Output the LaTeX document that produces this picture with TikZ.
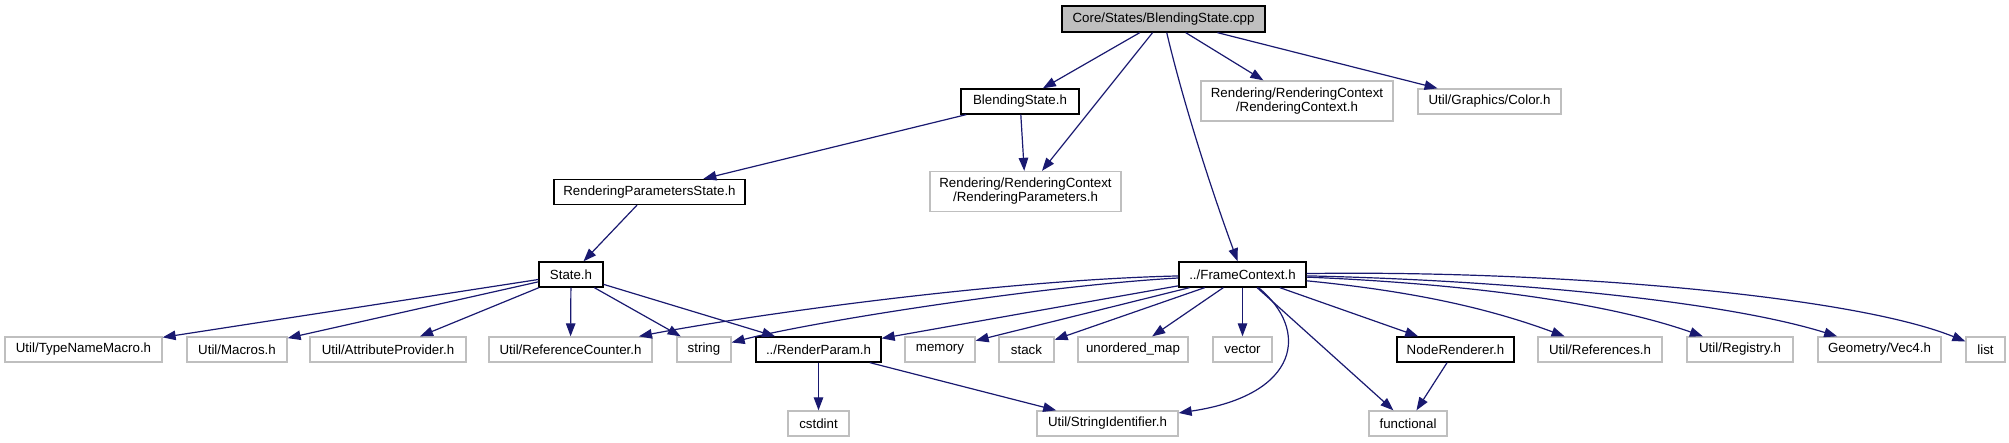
\documentclass[tikz,border=0pt]{standalone}
\usepackage{fontspec}
\setsansfont{Liberation Sans}
\usepackage{tikz}
\usetikzlibrary{arrows.meta, positioning, calc}
\definecolor{ink}{HTML}{000000}
\definecolor{edgeblue}{HTML}{191970}
\definecolor{nodoc}{HTML}{BFBFBF}
\definecolor{rootfill}{HTML}{BFBFBF}
\tikzset{
  font=\sffamily\fontsize{13.3}{14}\selectfont,
  %
  file/.style={
    draw=nodoc, line width=1.3pt, fill=white, align=center, text=ink,
    inner sep=2pt, minimum height=25pt,
  },
  filedoc/.style={file, draw=ink},
  fileroot/.style={file, draw=ink, fill=rootfill, minimum height=26pt},
  fileboth/.style={file, minimum height=40pt},
  %
  incl/.style={draw=edgeblue, line width=1.2pt, -{Triangle[length=13pt, width=9.5pt, fill=edgeblue]}},
}
\begin{document}
\begin{tikzpicture}[x=1pt, y=-1pt]

  \useasboundingbox (0,0) rectangle (2009,443);

  % top levels
  \node[fileroot, minimum width=203pt] (cpp) at (1163.5,19) {Core/States/BlendingState.cpp};
  \node[filedoc, minimum width=118pt] (bstate) at (1020,101.5) {BlendingState.h};
  \node[fileboth, minimum width=192pt] (rctx) at (1297,101) {Rendering/RenderingContext\\/RenderingContext.h};
  \node[file, minimum width=143pt] (color) at (1489.5,101.5) {Util/Graphics/Color.h};
  \node[filedoc, minimum width=191pt] (rpstate) at (649.5,192) {RenderingParametersState.h};
  \node[fileboth, minimum width=191pt] (rparams) at (1025.5,191.5) {Rendering/RenderingContext\\/RenderingParameters.h};
  \node[filedoc, minimum width=64pt] (state) at (571,274.5) {State.h};
  \node[filedoc, minimum width=127pt] (frame) at (1242.5,274.5) {../FrameContext.h};

  % row of headers
  \node[file, minimum width=157pt] (typename) at (83.5,349.5) {Util/TypeNameMacro.h};
  \node[file, minimum width=100pt] (macros) at (237,349.5) {Util/Macros.h};
  \node[file, minimum width=156pt] (attrib) at (388,349.5) {Util/AttributeProvider.h};
  \node[file, minimum width=163pt] (refcount) at (570.5,349.5) {Util/ReferenceCounter.h};
  \node[file, minimum width=54pt] (string) at (704,349.5) {string};
  \node[filedoc, minimum width=125pt] (rparam) at (818.5,349.5) {../RenderParam.h};
  \node[file, minimum width=70pt] (memory) at (940,349.5) {memory};
  \node[file, minimum width=55pt] (stack) at (1026.5,349.5) {stack};
  \node[file, minimum width=110pt] (umap) at (1133,349.5) {unordered\_map};
  \node[file, minimum width=59pt] (vector) at (1242.5,349.5) {vector};
  \node[filedoc, minimum width=117pt] (noderend) at (1455.5,349.5) {NodeRenderer.h};
  \node[file, minimum width=124pt] (refs) at (1600,349.5) {Util/References.h};
  \node[file, minimum width=106pt] (registry) at (1740,349.5) {Util/Registry.h};
  \node[file, minimum width=123pt] (vecfour) at (1879.5,349.5) {Geometry/Vec4.h};
  \node[file, minimum width=39pt] (list) at (1985.5,349.5) {list};

  % bottom
  \node[file, minimum width=61pt] (cstdint) at (818.5,423.5) {cstdint};
  \node[file, minimum width=141pt] (strid) at (1107.5,423.5) {Util/StringIdentifier.h};
  \node[file, minimum width=78pt] (functional) at (1408,423.5) {functional};

  \draw[incl] (cpp) -- (bstate);
  \draw[incl] (cpp) -- (rparams);
  \draw[incl] (cpp) .. controls (1185,110) and (1215,200) .. (frame);
  \draw[incl] (cpp) -- (rctx);
  \draw[incl] (cpp) -- (color);

  \draw[incl] (bstate) -- (rpstate);
  \draw[incl] (bstate) -- (rparams);
  \draw[incl] (rpstate) -- (state);

  \foreach \dst in {typename, macros, attrib, refcount, string, rparam}
    \draw[incl] (state) -- (\dst);

  \draw[incl] (frame) .. controls (1000,280) and (750,315) .. (refcount);
  \draw[incl] (frame) .. controls (1050,285) and (820,320) .. (string);
  \foreach \dst in {rparam, memory, stack, umap, vector, functional, noderend}
    \draw[incl] (frame) -- (\dst);
  \draw[incl] (frame) .. controls (1310,330) and (1300,395) .. (strid);
  \draw[incl] (frame) .. controls (1400,290) and (1480,305) .. (refs);
  \draw[incl] (frame) .. controls (1450,283) and (1600,300) .. (registry);
  \draw[incl] (frame) .. controls (1500,280) and (1720,300) .. (vecfour);
  \draw[incl] (frame) .. controls (1550,270) and (1850,295) .. (list);

  \draw[incl] (rparam) -- (cstdint);
  \draw[incl] (rparam) -- (strid);
  \draw[incl] (noderend) -- (functional);

\end{tikzpicture}
\end{document}
